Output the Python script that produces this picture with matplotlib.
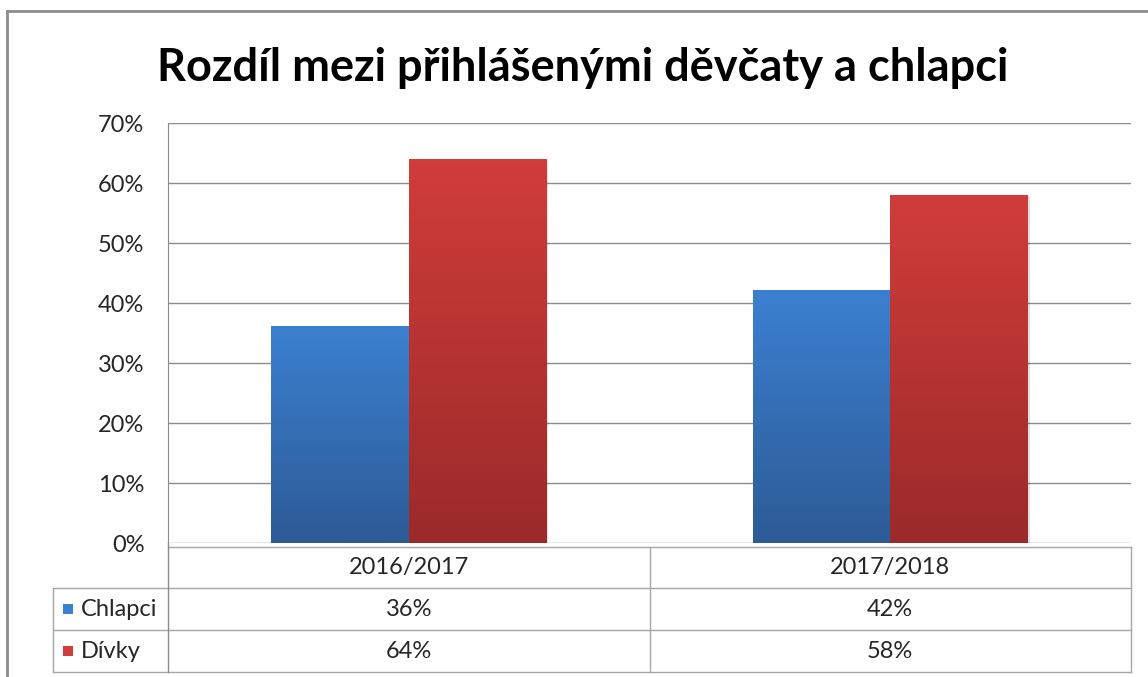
import numpy as np
import matplotlib.pyplot as plt
from matplotlib.lines import Line2D
from matplotlib.patches import Rectangle
from matplotlib.colors import LinearSegmentedColormap

plt.rcParams['font.family'] = ['Lato', 'DejaVu Sans']

title = 'Rozdíl mezi přihlášenými děvčaty a chlapci'
years = ['2016/2017', '2017/2018']
series = ['Chlapci', 'Dívky']
chlapci = [0.36, 0.42]
divky = [0.64, 0.58]
yticks = [0, 0.1, 0.2, 0.3, 0.4, 0.5, 0.6, 0.7]

# gradient (top, bottom) colours for each series
grad = {
    'Chlapci': ('#3b80d0', '#2d5b96'),
    'Dívky': ('#d03d3a', '#9b2a2a'),
}

W, H = 1148, 677
fig = plt.figure(figsize=(W / 100, H / 100), dpi=100)

# plot area in pixels
left, right, top, bottom = 168, 1131, 123, 543
ax = fig.add_axes([left / W, 1 - bottom / H, (right - left) / W, (bottom - top) / H])

x = np.arange(len(years))
bw = 1 / 3.5  # Excel gap width 150 %
bars = {
    'Chlapci': ax.bar(x - bw / 2, chlapci, bw, color='none'),
    'Dívky': ax.bar(x + bw / 2, divky, bw, color='none'),
}

ax.set_yticks(yticks)
ax.set_yticklabels([f'{int(round(t * 100))}%' for t in yticks], fontsize=17, color='#262626')
ax.tick_params(axis='y', length=0, pad=17)
ax.set_xticks([])
ax.grid(axis='y', color='#8c8c8c', linewidth=1)
ax.set_axisbelow(True)
for s in ['top', 'right', 'bottom']:
    ax.spines[s].set_visible(False)
ax.spines['left'].set_color('#8c8c8c')

for name, cont in bars.items():
    c_top, c_bot = grad[name]
    cmap = LinearSegmentedColormap.from_list(name, [c_bot, c_top])
    for b in cont:
        x0, y0 = b.get_x(), b.get_y()
        w, h = b.get_width(), b.get_height()
        # soft shadow
        ax.add_patch(Rectangle((x0 + 0.004, y0 - 0.002), w, h, color='#000000', alpha=0.12, zorder=2, lw=0))
        img = np.linspace(0, 1, 100).reshape(-1, 1)
        ax.imshow(img, extent=(x0, x0 + w, y0, y0 + h), origin='lower', cmap=cmap,
                  aspect='auto', zorder=3)
ax.set_xlim(-0.5, len(years) - 0.5)
ax.set_ylim(0, 0.7)

# overlay in pixel coordinates for frame and data table
ov = fig.add_axes([0, 0, 1, 1], zorder=-1)
ov.set_xlim(0, W)
ov.set_ylim(H, 0)
ov.axis('off')

lc = '#a6a6a6'
ov.add_line(Line2D([7, W], [11, 11], color='#8c8c8c', lw=2))
ov.add_line(Line2D([7, 7], [11, H], color='#8c8c8c', lw=2))

fig.text(583 / W, 1 - 68 / H, title, ha='center', va='center', fontsize=32.5,
         fontweight='bold', color='#000000')

tab_left = 53
rows = [547, 588, 630, 672]
col_w = (right - left) / len(years)
ov.add_line(Line2D([left, right], [rows[0], rows[0]], color=lc, lw=1))
for yy in rows[1:]:
    ov.add_line(Line2D([tab_left, right], [yy, yy], color=lc, lw=1))
ov.add_line(Line2D([tab_left, tab_left], [rows[1], rows[3]], color=lc, lw=1))
ov.add_line(Line2D([left, left], [bottom, rows[3]], color='#8c8c8c', lw=1))
for i in range(1, len(years) + 1):
    xx = left + i * col_w
    ov.add_line(Line2D([xx, xx], [rows[0], rows[3]], color=lc, lw=1))

tc = '#262626'
for i, yr in enumerate(years):
    cx = left + (i + 0.5) * col_w
    ov.text(cx, (rows[0] + rows[1]) / 2, yr, ha='center', va='center', fontsize=17, color=tc)
    for r, vals in enumerate([chlapci, divky]):
        ov.text(cx, (rows[r + 1] + rows[r + 2]) / 2, f'{int(round(vals[i] * 100))}%',
                ha='center', va='center', fontsize=17, color=tc)

for r, name in enumerate(series):
    cy = (rows[r + 1] + rows[r + 2]) / 2
    ov.add_patch(Rectangle((63, cy - 5), 10, 10, color=grad[name][0], lw=0))
    ov.text(81, cy, name, ha='left', va='center', fontsize=17, color=tc)

fig.savefig('out.png', dpi=100)
